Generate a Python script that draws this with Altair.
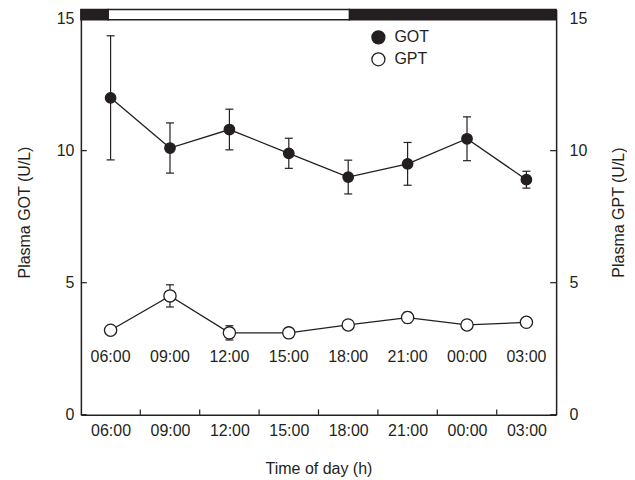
import altair as alt
import pandas as pd

# ---------------- data ----------------
times = ["06:00", "09:00", "12:00", "15:00", "18:00", "21:00", "00:00", "03:00"]
got_mean = [12.0, 10.1, 10.8, 9.9, 9.0, 9.5, 10.45, 8.9]
got_err = [2.35, 0.95, 0.77, 0.57, 0.64, 0.81, 0.83, 0.32]
gpt_mean = [3.2, 4.5, 3.1, 3.1, 3.4, 3.68, 3.4, 3.5]
gpt_err = [0.1, 0.42, 0.27, 0.08, 0.08, 0.2, 0.08, 0.08]
series_names = ["GOT", "GPT"]
y_ticks = [0, 5, 10, 15]
# light/dark bar, in sampling-interval units (0 = left edge, 8 = right edge)
phase_kind = ["dark", "light", "dark"]
phase_start = [0, 0.46, 4.52]
phase_end = [0.46, 4.52, 8]
bar_bottom, bar_top = 14.96, 15.35
label_row_y = 2.2

INK = "#231f20"
FONT = "Liberation Sans"
W, H = 476, 406
YMAX = bar_top
N = len(times)

rows = []
for s, m, e in (("GOT", got_mean, got_err), ("GPT", gpt_mean, gpt_err)):
    for t, mv, ev in zip(times, m, e):
        rows.append({"time": t, "series": s, "mean": mv, "lo": mv - ev, "hi": mv + ev})
df = pd.DataFrame(rows)

phase_df = pd.DataFrame({"kind": phase_kind, "s": phase_start, "e": phase_end,
                         "y0": bar_bottom, "y1": bar_top})
ytick_df = pd.DataFrame(
    [{"v": v, "x0": 0, "x1": 0.1} for v in y_ticks] +
    [{"v": v, "x0": N - 0.1, "x1": N} for v in y_ticks])
xtick_df = pd.DataFrame({"b": list(range(1, N)), "y0": 0, "y1": 0.2})
lab_df = pd.DataFrame({"time": times, "y": label_row_y})

yscale = alt.Scale(domain=[0, YMAX], nice=False, zero=False)
xq = alt.Scale(domain=[0, N], nice=False, zero=False)
xp = alt.Scale(type="point", domain=times, padding=0.5)

ax_common = dict(labelFontSize=16, titleFontSize=16, labelColor=INK, titleColor=INK,
                 titleFontWeight="normal", domainColor=INK, domainWidth=1.5,
                 tickSize=0, grid=False, labelFont=FONT, titleFont=FONT)

X_main = alt.X("time:N", scale=xp, sort=times,
               axis=alt.Axis(title="Time of day (h)", labelAngle=0, labelPadding=8,
                             titlePadding=22, **ax_common))
X_none = alt.X("time:N", scale=xp, sort=times, axis=None)

left_axis = alt.Axis(title="Plasma GOT (U/L)", values=y_ticks, labelPadding=7,
                     titlePadding=24, **ax_common)
right_axis = alt.Axis(title="Plasma GPT (U/L)", orient="right", values=y_ticks,
                      labelPadding=13, titlePadding=24, titleAngle=270,
                      titleBaseline="top", **ax_common)

bar_dark = alt.Chart(phase_df).transform_filter("datum.kind == 'dark'").mark_rect(
    fill=INK, stroke=INK, strokeWidth=1.5).encode(
    x=alt.X("s:Q", scale=xq, axis=None), x2="e:Q",
    y=alt.Y("y0:Q", scale=yscale, axis=None), y2="y1:Q")
bar_light = alt.Chart(phase_df).transform_filter("datum.kind == 'light'").mark_rect(
    fill="white", stroke=INK, strokeWidth=1.5).encode(
    x=alt.X("s:Q", scale=xq, axis=None), x2="e:Q",
    y=alt.Y("y0:Q", scale=yscale, axis=None), y2="y1:Q")

yt = alt.Chart(ytick_df).mark_rule(color=INK, strokeWidth=1.2).encode(
    x=alt.X("x0:Q", scale=xq, axis=None), x2="x1:Q",
    y=alt.Y("v:Q", scale=yscale, axis=None))

xt = alt.Chart(xtick_df).mark_rule(color=INK, strokeWidth=1.2).encode(
    x=alt.X("b:Q", scale=xq, axis=None),
    y=alt.Y("y0:Q", scale=yscale, axis=None), y2="y1:Q")

err = alt.Chart(df).mark_rule(color=INK, strokeWidth=1.2).encode(
    x=X_none, y=alt.Y("lo:Q", scale=yscale, axis=None), y2="hi:Q")

caps = alt.Chart(df).transform_fold(["lo", "hi"], as_=["k", "val"]).mark_tick(
    color=INK, size=8, thickness=1.2, opacity=1).encode(
    x=X_none, y=alt.Y("val:Q", scale=yscale, axis=None))

lines = alt.Chart(df).mark_line(color=INK, strokeWidth=1.3).encode(
    x=X_main, y=alt.Y("mean:Q", scale=yscale, axis=left_axis), detail="series:N")

fill_enc = alt.Fill(
    "series:N", scale=alt.Scale(domain=series_names, range=[INK, "white"]),
    legend=alt.Legend(orient="none", legendX=290, legendY=20, title=None,
                      padding=0, symbolSize=170, symbolType="circle",
                      symbolStrokeColor=INK, symbolStrokeWidth=1.3,
                      labelFontSize=16, labelFont=FONT, labelColor=INK,
                      labelOffset=8, rowPadding=2))

pts_got = alt.Chart(df).transform_filter("datum.series == 'GOT'").mark_point(
    filled=True, shape="circle", stroke=INK, strokeWidth=1.3, opacity=1, size=110).encode(
    x=X_none, y=alt.Y("mean:Q", scale=yscale, axis=right_axis), fill=fill_enc)
pts_gpt = alt.Chart(df).transform_filter("datum.series == 'GPT'").mark_point(
    filled=True, shape="circle", stroke=INK, strokeWidth=1.3, opacity=1, size=150).encode(
    x=X_none, y=alt.Y("mean:Q", scale=yscale, axis=None), fill=fill_enc)

labels = alt.Chart(lab_df).mark_text(fontSize=16, font=FONT, color=INK).encode(
    x=X_none, y=alt.Y("y:Q", scale=yscale, axis=None), text="time:N")

chart = alt.layer(bar_dark, bar_light, yt, xt, err, caps, lines, pts_got, pts_gpt,
                  labels).resolve_scale(
    x="independent", y="independent", fill="shared"
).properties(
    width=W, height=H,
    padding={"left": 8, "top": 0, "right": 0, "bottom": 0},
).configure(font=FONT).configure_view(stroke=None)

chart.save("out.html", embed_options={"renderer": "svg", "actions": False})
